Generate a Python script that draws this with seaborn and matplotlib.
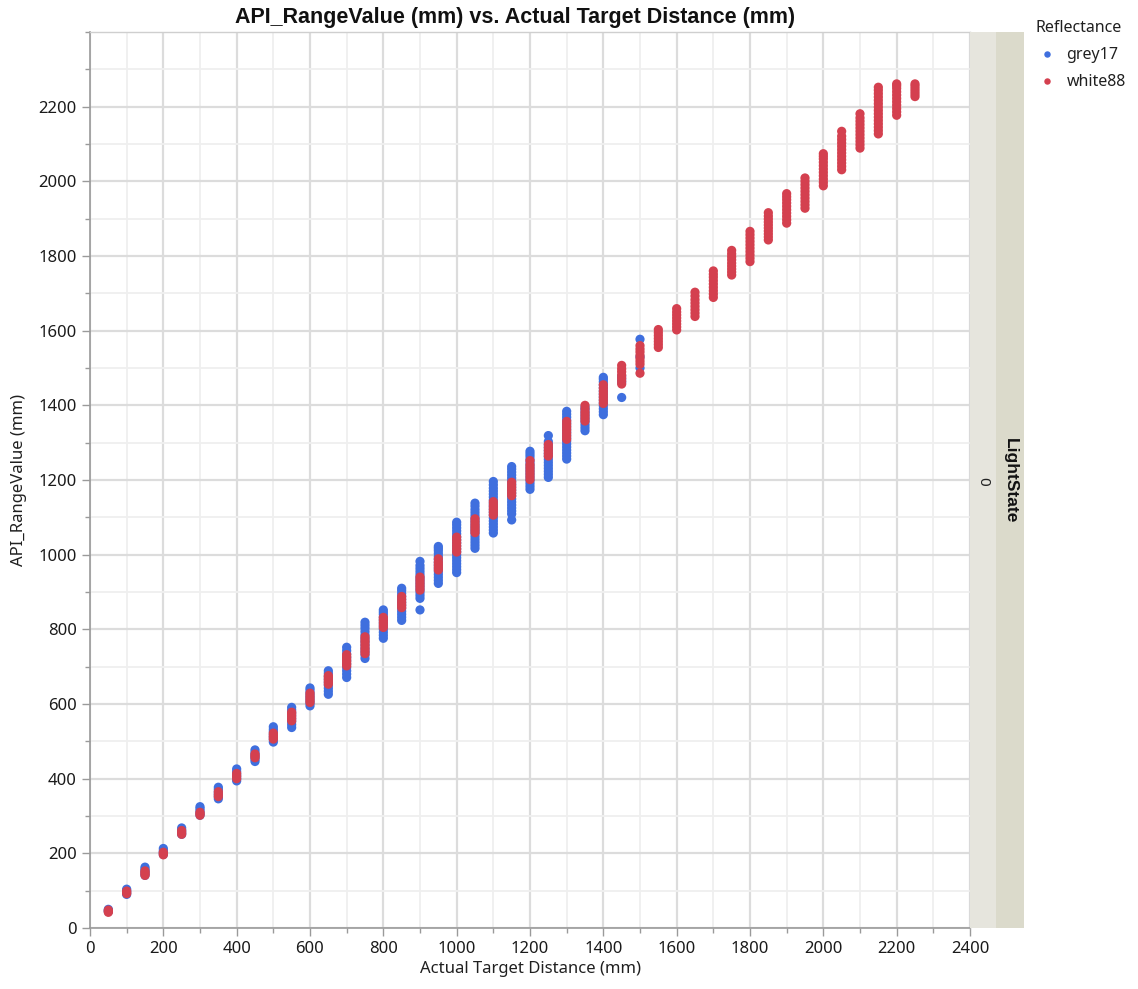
import matplotlib
matplotlib.use("Agg")
import matplotlib.pyplot as plt
from matplotlib.patches import Rectangle
from matplotlib.ticker import MultipleLocator
import seaborn as sns
import pandas as pd

# ---------------- data ----------------
distances = [50, 100, 150, 200, 250, 300, 350, 400, 450, 500, 550, 600, 650, 700, 750,
             800, 850, 900, 950, 1000, 1050, 1100, 1150, 1200, 1250, 1300, 1350, 1400,
             1450, 1500, 1550, 1600, 1650, 1700, 1750, 1800, 1850, 1900, 1950, 2000,
             2050, 2100, 2150, 2200, 2250]

grey17_values = [
    [44, 47, 50],
    [90, 95, 100, 104],
    [141, 147, 153, 158, 163],
    [197, 202, 207, 213],
    [251, 256, 262, 268],
    [302, 308, 314, 320, 325],
    [346, 352, 358, 364, 371, 377],
    [394, 400, 406, 412, 419, 426],
    [446, 452, 458, 464, 470, 477],
    [498, 505, 512, 519, 526, 532, 539],
    [537, 545, 553, 561, 569, 577, 584, 591],
    [595, 602, 609, 616, 623, 630, 637, 643],
    [626, 634, 642, 650, 658, 666, 674, 682, 689],
    [671, 680, 689, 698, 707, 716, 725, 734, 743, 752],
    [722, 731, 740, 749, 758, 767, 776, 785, 794, 803, 811, 819],
    [776, 784, 792, 800, 808, 816, 824, 832, 840, 846, 852],
    [824, 832, 840, 848, 856, 864, 872, 880, 888, 896, 904, 910],
    [852, 883, 891, 899, 907, 915, 923, 931, 939, 947, 955, 963, 971, 982],
    [923, 931, 939, 947, 955, 963, 971, 979, 987, 995, 1003, 1011, 1017, 1022],
    [952, 960, 968, 976, 984, 992, 1000, 1008, 1016, 1024, 1032, 1040, 1048, 1056,
     1064, 1072, 1080, 1087],
    [1017, 1025, 1033, 1041, 1049, 1057, 1065, 1073, 1081, 1089, 1097, 1105, 1113,
     1121, 1130, 1138],
    [1058, 1066, 1074, 1082, 1090, 1098, 1106, 1114, 1122, 1130, 1138, 1146, 1154,
     1162, 1170, 1178, 1187, 1196],
    [1093, 1109, 1117, 1125, 1133, 1141, 1149, 1157, 1165, 1173, 1181, 1189, 1197,
     1205, 1213, 1221, 1229, 1236],
    [1175, 1183, 1191, 1199, 1207, 1215, 1223, 1231, 1239, 1247, 1255, 1263, 1270, 1277],
    [1207, 1215, 1223, 1231, 1239, 1247, 1255, 1263, 1271, 1279, 1287, 1295, 1303, 1319],
    [1256, 1264, 1272, 1280, 1288, 1296, 1304, 1312, 1320, 1328, 1336, 1344, 1352,
     1360, 1368, 1376, 1384],
    [1332, 1340, 1348, 1356, 1364, 1372, 1380, 1388, 1395],
    [1375, 1383, 1391, 1399, 1407, 1415, 1423, 1431, 1439, 1447, 1455, 1463, 1470, 1475],
    [1421, 1462, 1470, 1478],
    [1500, 1530, 1577],
]

white88_values = [
    [42, 45, 48],
    [92, 95, 99],
    [141, 145, 149, 153],
    [196, 200, 203],
    [251, 256, 261],
    [302, 306, 310],
    [352, 358, 365],
    [400, 407, 414],
    [456, 461, 466],
    [506, 511, 516, 522],
    [555, 561, 567, 573, 578],
    [604, 610, 616, 622, 629],
    [653, 659, 665, 671, 676],
    [702, 708, 714, 720, 726, 732],
    [735, 742, 749, 757, 765, 772, 780],
    [805, 812, 819, 826, 832],
    [858, 865, 872, 880, 888],
    [905, 912, 919, 926, 933, 940],
    [959, 966, 973, 980, 989],
    [1007, 1015, 1023, 1031, 1039, 1047],
    [1059, 1066, 1073, 1080, 1088, 1096],
    [1106, 1113, 1120, 1127, 1134, 1142],
    [1158, 1165, 1172, 1179, 1186, 1194],
    [1201, 1209, 1217, 1225, 1233, 1241, 1252],
    [1264, 1271, 1279, 1287, 1295],
    [1309, 1317, 1325, 1333, 1341, 1349, 1357],
    [1358, 1366, 1374, 1382, 1391, 1400],
    [1405, 1413, 1421, 1429, 1437, 1446, 1455],
    [1457, 1465, 1473, 1481, 1490, 1498, 1507],
    [1486, 1510, 1518, 1526, 1534, 1543, 1551, 1560],
    [1555, 1563, 1571, 1579, 1587, 1595, 1603],
    [1602, 1610, 1618, 1626, 1634, 1642, 1650, 1659],
    [1638, 1647, 1656, 1665, 1674, 1683, 1693, 1703],
    [1689, 1698, 1707, 1716, 1725, 1734, 1743, 1751, 1760],
    [1749, 1757, 1765, 1773, 1781, 1790, 1798, 1806, 1815],
    [1785, 1794, 1803, 1812, 1821, 1830, 1839, 1848, 1857, 1866],
    [1843, 1851, 1859, 1867, 1875, 1883, 1891, 1899, 1907, 1916],
    [1888, 1897, 1906, 1915, 1924, 1933, 1942, 1951, 1959, 1967],
    [1928, 1937, 1946, 1955, 1964, 1973, 1982, 1991, 2000, 2009],
    [1988, 1997, 2006, 2015, 2024, 2033, 2042, 2051, 2060, 2067, 2074],
    [2031, 2040, 2049, 2058, 2067, 2076, 2085, 2094, 2103, 2112, 2121, 2134],
    [2089, 2098, 2107, 2116, 2125, 2134, 2143, 2152, 2161, 2170, 2181],
    [2127, 2136, 2145, 2154, 2163, 2172, 2181, 2190, 2199, 2208, 2217, 2226, 2235,
     2244, 2252],
    [2177, 2186, 2195, 2204, 2213, 2222, 2231, 2240, 2249, 2256, 2261],
    [2227, 2234, 2241, 2248, 2255, 2261],
]

reflectance_levels = ["grey17", "white88"]
light_state_levels = ["0"]

# ---------------- build table ----------------
rows = []
for d, vals in zip(distances, grey17_values):
    for v in vals:
        rows.append(("grey17", d, v))
for d, vals in zip(distances, white88_values):
    for v in vals:
        rows.append(("white88", d, v))
df = pd.DataFrame(rows, columns=["Reflectance", "Actual Target Distance (mm)",
                                 "API_RangeValue (mm)"])

# ---------------- style ----------------
sns.set_theme(style="white")
plt.rcParams["font.family"] = ["Noto Sans", "DejaVu Sans"]
BOLD = ["Liberation Sans", "DejaVu Sans"]

fig = plt.figure(figsize=(11.38, 9.89), dpi=100)
W, H = 1138, 989
ax = fig.add_axes([90 / W, 1 - 928 / H, 880 / W, 896 / H])

palette = {"grey17": "#3F6FDE", "white88": "#D4404F"}
sns.scatterplot(data=df, x="Actual Target Distance (mm)", y="API_RangeValue (mm)",
                hue="Reflectance", hue_order=reflectance_levels, palette=palette,
                s=44, linewidth=0, alpha=1.0, ax=ax, legend=True, zorder=3)

ax.set_xlim(0, 2400)
ax.set_ylim(0, 2400)
ax.xaxis.set_major_locator(MultipleLocator(200))
ax.xaxis.set_minor_locator(MultipleLocator(100))
ax.yaxis.set_major_locator(MultipleLocator(200))
ax.yaxis.set_minor_locator(MultipleLocator(100))
ax.grid(True, which="major", color="#dcdcdc", linewidth=1.6, zorder=0)
ax.grid(True, which="minor", color="#efefef", linewidth=1.3, zorder=0)
ax.set_axisbelow(True)

ax.tick_params(axis="both", which="major", length=6, width=1, color="#9a9a9a",
               labelsize=12, labelcolor="#1a1a1a", direction="out", bottom=True, left=True)
ax.tick_params(axis="both", which="minor", length=3.5, width=1, color="#9a9a9a",
               direction="out", bottom=True, left=True)
ax.set_yticks([0, 200, 400, 600, 800, 1000, 1200, 1400, 1600, 1800, 2000, 2200])

for side in ["left", "bottom"]:
    ax.spines[side].set_color("#9a9a9a")
    ax.spines[side].set_linewidth(1.2)
for side in ["top", "right"]:
    ax.spines[side].set_color("#cfcfcf")
    ax.spines[side].set_linewidth(1.0)

ax.set_xlabel("Actual Target Distance (mm)", fontsize=12, color="#202020", labelpad=3)
ax.set_ylabel("API_RangeValue (mm)", fontsize=12, color="#202020", labelpad=8)
fig.text(515 / W, 1 - 17 / H, "API_RangeValue (mm) vs. Actual Target Distance (mm)",
         ha="center", va="center", fontsize=15.5, fontweight="bold", color="#111111",
         family=BOLD)

# ---------------- facet strip (LightState) ----------------
fig.patches.append(Rectangle((970 / W, 1 - 928 / H), 26 / W, 896 / H,
                             transform=fig.transFigure, facecolor="#e6e5dd",
                             edgecolor="none", zorder=0))
fig.patches.append(Rectangle((996 / W, 1 - 928 / H), 28 / W, 896 / H,
                             transform=fig.transFigure, facecolor="#dbdacb",
                             edgecolor="none", zorder=0))
fig.text(983 / W, 1 - 481 / H, light_state_levels[0], rotation=-90, ha="center",
         va="center", fontsize=11, color="#222222")
fig.text(1010 / W, 1 - 481 / H, "LightState", rotation=-90, ha="center", va="center",
         fontsize=12.5, fontweight="bold", color="#111111", family=BOLD)

# ---------------- legend ----------------
leg = ax.legend(loc="upper left", bbox_to_anchor=(1029 / W, 1 - 14 / H),
                bbox_transform=fig.transFigure, frameon=False, title="Reflectance",
                fontsize=11.5, title_fontsize=11.5, markerscale=0.7, handlelength=1.4,
                handletextpad=0.55, borderaxespad=0, labelspacing=0.68, alignment="left")
for t in leg.get_texts():
    t.set_color("#202020")
leg.get_title().set_color("#202020")

fig.savefig("out.png", dpi=100)
